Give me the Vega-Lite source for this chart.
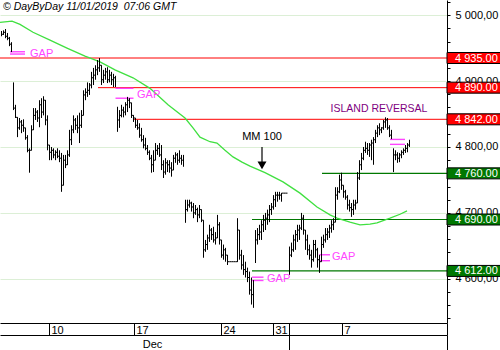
{
"$schema": "https://vega.github.io/schema/vega-lite/v6.json",
"width": 447,
"height": 323,
"autosize": "none",
"padding": {"left": 0, "top": 0, "right": 53, "bottom": 27},
"background": "white",
"config": {"view": {"stroke": null}, "axis": {"labelFont": "Liberation Sans", "labelFontSize": 11, "labelColor": "black", "domainColor": "black", "tickColor": "black", "grid": false}, "text": {"font": "Liberation Sans"}},
"datasets": {
"bars": [
{"t":0.5,"h":4976,"l":4968,"c":4971,"s":1},{"t":1.5,"h":4977,"l":4970,"c":4974,"s":1},{"t":2.5,"h":4979,"l":4965,"c":4968,"s":1},{"t":3.5,"h":4973,"l":4962,"c":4965,"s":1},{"t":4.5,"h":4967,"l":4953,"c":4956,"s":1},{"t":5.5,"h":4959,"l":4944,"c":4945,"s":1},
{"t":6.5,"h":4898,"l":4856,"c":4859,"s":2},{"t":7.5,"h":4864,"l":4844,"c":4845,"s":2},{"t":8.5,"h":4845,"l":4815,"c":4829,"s":2},{"t":9.5,"h":4844,"l":4826,"c":4838,"s":2},{"t":10.5,"h":4841,"l":4821,"c":4833,"s":2},{"t":11.5,"h":4842,"l":4823,"c":4829,"s":2},{"t":12.5,"h":4829,"l":4811,"c":4814,"s":2},{"t":13.5,"h":4818,"l":4792,"c":4795,"s":2},{"t":14.5,"h":4798,"l":4761,"c":4795,"s":2},{"t":15.5,"h":4833,"l":4795,"c":4826,"s":2},{"t":16.5,"h":4859,"l":4826,"c":4848,"s":2},{"t":17.5,"h":4859,"l":4841,"c":4853,"s":2},{"t":18.5,"h":4856,"l":4838,"c":4844,"s":2},{"t":19.5,"h":4871,"l":4830,"c":4864,"s":2},{"t":20.5,"h":4874,"l":4844,"c":4853,"s":2},{"t":21.5,"h":4877,"l":4848,"c":4871,"s":2},{"t":22.5,"h":4871,"l":4833,"c":4841,"s":2},{"t":23.5,"h":4848,"l":4795,"c":4803,"s":2},{"t":24.5,"h":4803,"l":4780,"c":4792,"s":2},{"t":25.5,"h":4800,"l":4780,"c":4795,"s":2},{"t":26.5,"h":4798,"l":4783,"c":4788,"s":2},{"t":27.5,"h":4795,"l":4780,"c":4792,"s":2},{"t":28.5,"h":4798,"l":4783,"c":4786,"s":2},{"t":29.5,"h":4795,"l":4777,"c":4783,"s":2},{"t":30.5,"h":4791,"l":4732,"c":4742,"s":2},{"t":31.5,"h":4788,"l":4742,"c":4780,"s":2},{"t":32.5,"h":4788,"l":4768,"c":4773,"s":2},{"t":33.5,"h":4795,"l":4773,"c":4788,"s":2},{"t":34.5,"h":4826,"l":4785,"c":4811,"s":2},{"t":35.5,"h":4833,"l":4803,"c":4826,"s":2},{"t":36.5,"h":4848,"l":4821,"c":4841,"s":2},{"t":37.5,"h":4844,"l":4826,"c":4833,"s":2},{"t":38.5,"h":4848,"l":4821,"c":4829,"s":2},{"t":39.5,"h":4852,"l":4806,"c":4833,"s":2},{"t":40.5,"h":4856,"l":4829,"c":4848,"s":2},{"t":41.5,"h":4886,"l":4852,"c":4879,"s":2},{"t":42.5,"h":4889,"l":4871,"c":4883,"s":2},{"t":43.5,"h":4898,"l":4876,"c":4886,"s":2},{"t":44.5,"h":4897,"l":4879,"c":4894,"s":2},{"t":45.5,"h":4914,"l":4889,"c":4905,"s":2},{"t":46.5,"h":4920,"l":4894,"c":4909,"s":2},{"t":47.5,"h":4924,"l":4902,"c":4917,"s":2},{"t":48.5,"h":4932,"l":4909,"c":4920,"s":2},{"t":49.5,"h":4935,"l":4914,"c":4924,"s":2},{"t":50.5,"h":4920,"l":4894,"c":4902,"s":2},{"t":51.5,"h":4917,"l":4897,"c":4909,"s":2},{"t":52.5,"h":4920,"l":4902,"c":4914,"s":2},{"t":53.5,"h":4921,"l":4897,"c":4902,"s":2},{"t":54.5,"h":4917,"l":4898,"c":4909,"s":2},{"t":55.5,"h":4914,"l":4894,"c":4902,"s":2},{"t":56.5,"h":4911,"l":4891,"c":4905,"s":2},{"t":57.5,"h":4908,"l":4891,"c":4892,"s":2},
{"t":58.5,"h":4861,"l":4823,"c":4841,"s":3},{"t":59.5,"h":4856,"l":4829,"c":4848,"s":3},{"t":60.5,"h":4864,"l":4845,"c":4856,"s":3},{"t":61.5,"h":4861,"l":4845,"c":4853,"s":3},{"t":62.5,"h":4868,"l":4848,"c":4864,"s":3},{"t":63.5,"h":4876,"l":4853,"c":4871,"s":3},{"t":64.5,"h":4874,"l":4859,"c":4867,"s":3},{"t":65.5,"h":4867,"l":4844,"c":4848,"s":3},{"t":66.5,"h":4848,"l":4838,"c":4844,"s":3},{"t":67.5,"h":4844,"l":4829,"c":4833,"s":3},{"t":68.5,"h":4841,"l":4826,"c":4829,"s":3},{"t":69.5,"h":4836,"l":4814,"c":4818,"s":3},{"t":70.5,"h":4829,"l":4808,"c":4811,"s":3},{"t":71.5,"h":4818,"l":4798,"c":4803,"s":3},{"t":72.5,"h":4814,"l":4795,"c":4798,"s":3},{"t":73.5,"h":4803,"l":4788,"c":4792,"s":3},{"t":74.5,"h":4795,"l":4780,"c":4783,"s":3},{"t":75.5,"h":4788,"l":4761,"c":4773,"s":3},{"t":76.5,"h":4795,"l":4762,"c":4780,"s":3},{"t":77.5,"h":4806,"l":4783,"c":4795,"s":3},{"t":78.5,"h":4803,"l":4788,"c":4798,"s":3},{"t":79.5,"h":4806,"l":4785,"c":4788,"s":3},{"t":80.5,"h":4803,"l":4765,"c":4773,"s":3},{"t":81.5,"h":4780,"l":4753,"c":4762,"s":3},{"t":82.5,"h":4783,"l":4758,"c":4776,"s":3},{"t":83.5,"h":4780,"l":4762,"c":4773,"s":3},{"t":84.5,"h":4780,"l":4761,"c":4768,"s":3},{"t":85.5,"h":4777,"l":4755,"c":4765,"s":3},{"t":86.5,"h":4788,"l":4768,"c":4783,"s":3},{"t":87.5,"h":4792,"l":4776,"c":4788,"s":3},{"t":88.5,"h":4791,"l":4773,"c":4780,"s":3},{"t":89.5,"h":4795,"l":4776,"c":4783,"s":3},{"t":90.5,"h":4788,"l":4773,"c":4780,"s":3},{"t":91.5,"h":4788,"l":4770,"c":4780,"s":3},
{"t":92.5,"h":4720,"l":4685,"c":4705,"s":4},{"t":93.5,"h":4720,"l":4702,"c":4712,"s":4},{"t":94.5,"h":4720,"l":4708,"c":4715,"s":4},{"t":95.5,"h":4717,"l":4702,"c":4709,"s":4},{"t":96.5,"h":4715,"l":4692,"c":4700,"s":4},{"t":97.5,"h":4712,"l":4697,"c":4705,"s":4},{"t":98.5,"h":4708,"l":4686,"c":4697,"s":4},{"t":99.5,"h":4712,"l":4692,"c":4705,"s":4},{"t":100.5,"h":4705,"l":4686,"c":4689,"s":4},{"t":101.5,"h":4686,"l":4632,"c":4644,"s":4},{"t":102.5,"h":4659,"l":4641,"c":4652,"s":4},{"t":103.5,"h":4667,"l":4644,"c":4662,"s":4},{"t":104.5,"h":4682,"l":4656,"c":4674,"s":4},{"t":105.5,"h":4677,"l":4659,"c":4667,"s":4},{"t":106.5,"h":4679,"l":4655,"c":4659,"s":4},{"t":107.5,"h":4671,"l":4652,"c":4662,"s":4},{"t":108.5,"h":4697,"l":4662,"c":4682,"s":4},{"t":109.5,"h":4686,"l":4652,"c":4659,"s":4},{"t":110.5,"h":4656,"l":4632,"c":4636,"s":4},{"t":111.5,"h":4652,"l":4629,"c":4644,"s":4},{"t":112.5,"h":4647,"l":4626,"c":4636,"s":4},{"t":113.5,"h":4636,"l":4621,"c":4626,"s":4},{"t":114.5,"h":4626,"l":4626,"c":4626,"s":4},{"t":115.5,"h":4626,"l":4626,"c":4626,"s":4},{"t":116.5,"h":4626,"l":4626,"c":4626,"s":4},{"t":117.5,"h":4626,"l":4626,"c":4626,"s":4},{"t":118.5,"h":4692,"l":4626,"c":4674,"s":4},{"t":119.5,"h":4674,"l":4629,"c":4636,"s":4},{"t":120.5,"h":4644,"l":4614,"c":4621,"s":4},{"t":121.5,"h":4636,"l":4606,"c":4614,"s":4},{"t":122.5,"h":4626,"l":4602,"c":4611,"s":4},{"t":123.5,"h":4617,"l":4595,"c":4602,"s":4},{"t":124.5,"h":4611,"l":4576,"c":4583,"s":4},{"t":125.5,"h":4602,"l":4561,"c":4576,"s":4},{"t":126.5,"h":4598,"l":4556,"c":4595,"s":4},
{"t":127.5,"h":4674,"l":4624,"c":4659,"s":5},{"t":128.5,"h":4677,"l":4652,"c":4667,"s":5},{"t":129.5,"h":4682,"l":4659,"c":4671,"s":5},{"t":130.5,"h":4689,"l":4659,"c":4682,"s":5},{"t":131.5,"h":4697,"l":4671,"c":4689,"s":5},{"t":132.5,"h":4700,"l":4674,"c":4692,"s":5},{"t":133.5,"h":4705,"l":4682,"c":4697,"s":5},{"t":134.5,"h":4712,"l":4686,"c":4705,"s":5},{"t":135.5,"h":4715,"l":4697,"c":4709,"s":5},{"t":136.5,"h":4727,"l":4705,"c":4720,"s":5},{"t":137.5,"h":4732,"l":4709,"c":4727,"s":5},{"t":138.5,"h":4732,"l":4717,"c":4727,"s":5},{"t":139.5,"h":4732,"l":4720,"c":4727,"s":5},{"t":140.5,"h":4730,"l":4717,"c":4730,"s":5},{"t":141.5,"h":4730,"l":4730,"c":4730,"s":5},{"t":142.5,"h":4730,"l":4730,"c":4730,"s":5},{"t":143.5,"h":4730,"l":4730,"c":4730,"s":5},
{"t":144.5,"h":4649,"l":4606,"c":4636,"s":6},{"t":145.5,"h":4655,"l":4633,"c":4644,"s":6},{"t":146.5,"h":4667,"l":4641,"c":4659,"s":6},{"t":147.5,"h":4674,"l":4644,"c":4667,"s":6},{"t":148.5,"h":4682,"l":4656,"c":4674,"s":6},{"t":149.5,"h":4682,"l":4659,"c":4677,"s":6},{"t":150.5,"h":4700,"l":4674,"c":4692,"s":6},{"t":151.5,"h":4697,"l":4667,"c":4674,"s":6},{"t":152.5,"h":4674,"l":4644,"c":4659,"s":6},{"t":153.5,"h":4667,"l":4636,"c":4644,"s":6},{"t":154.5,"h":4652,"l":4629,"c":4636,"s":6},{"t":155.5,"h":4644,"l":4617,"c":4629,"s":6},{"t":156.5,"h":4659,"l":4626,"c":4652,"s":6},{"t":157.5,"h":4659,"l":4632,"c":4644,"s":6},{"t":158.5,"h":4647,"l":4617,"c":4629,"s":6},{"t":159.5,"h":4636,"l":4609,"c":4626,"s":6},{"t":160.5,"h":4664,"l":4636,"c":4652,"s":6},{"t":161.5,"h":4667,"l":4647,"c":4659,"s":6},{"t":162.5,"h":4677,"l":4655,"c":4667,"s":6},{"t":163.5,"h":4677,"l":4659,"c":4671,"s":6},{"t":164.5,"h":4682,"l":4662,"c":4677,"s":6},{"t":165.5,"h":4689,"l":4670,"c":4682,"s":6},{"t":166.5,"h":4692,"l":4674,"c":4686,"s":6},{"t":167.5,"h":4739,"l":4686,"c":4727,"s":6},{"t":168.5,"h":4739,"l":4720,"c":4732,"s":6},{"t":169.5,"h":4758,"l":4730,"c":4750,"s":6},{"t":170.5,"h":4761,"l":4735,"c":4742,"s":6},{"t":171.5,"h":4739,"l":4723,"c":4732,"s":6},{"t":172.5,"h":4735,"l":4720,"c":4724,"s":6},{"t":173.5,"h":4727,"l":4705,"c":4712,"s":6},{"t":174.5,"h":4720,"l":4702,"c":4708,"s":6},{"t":175.5,"h":4715,"l":4694,"c":4705,"s":6},{"t":176.5,"h":4720,"l":4697,"c":4712,"s":6},{"t":177.5,"h":4720,"l":4705,"c":4715,"s":6},{"t":178.5,"h":4762,"l":4717,"c":4753,"s":6},{"t":179.5,"h":4780,"l":4750,"c":4773,"s":6},{"t":180.5,"h":4791,"l":4765,"c":4783,"s":6},{"t":181.5,"h":4800,"l":4780,"c":4795,"s":6},{"t":182.5,"h":4808,"l":4791,"c":4798,"s":6},{"t":183.5,"h":4806,"l":4788,"c":4795,"s":6},{"t":184.5,"h":4806,"l":4785,"c":4803,"s":6},{"t":185.5,"h":4811,"l":4780,"c":4806,"s":6},{"t":186.5,"h":4815,"l":4773,"c":4811,"s":6},{"t":187.5,"h":4826,"l":4806,"c":4821,"s":6},{"t":188.5,"h":4833,"l":4815,"c":4829,"s":6},{"t":189.5,"h":4836,"l":4818,"c":4826,"s":6},{"t":190.5,"h":4830,"l":4821,"c":4829,"s":6},{"t":191.5,"h":4841,"l":4826,"c":4838,"s":6},{"t":192.5,"h":4845,"l":4829,"c":4841,"s":6},{"t":193.5,"h":4844,"l":4826,"c":4829,"s":6},{"t":194.5,"h":4833,"l":4815,"c":4818,"s":6},{"t":195.5,"h":4826,"l":4812,"c":4815,"s":6},
{"t":196.5,"h":4798,"l":4762,"c":4788,"s":7},{"t":197.5,"h":4795,"l":4780,"c":4788,"s":7},{"t":198.5,"h":4792,"l":4776,"c":4783,"s":7},{"t":199.5,"h":4791,"l":4777,"c":4788,"s":7},{"t":200.5,"h":4795,"l":4783,"c":4792,"s":7},{"t":201.5,"h":4798,"l":4788,"c":4795,"s":7},{"t":202.5,"h":4803,"l":4791,"c":4798,"s":7},{"t":203.5,"h":4806,"l":4792,"c":4803,"s":7},{"t":204.5,"h":4811,"l":4800,"c":4806,"s":7}
],
"ma": [
{"t":0,"p":4989},{"t":6,"p":4991},{"t":10,"p":4986},{"t":16.5,"p":4974},{"t":25,"p":4962},{"t":33.5,"p":4950},{"t":42.5,"p":4938},{"t":50,"p":4929},{"t":57.5,"p":4917},{"t":66.5,"p":4905},{"t":75,"p":4889},{"t":84,"p":4864},{"t":92.5,"p":4844},{"t":96.5,"p":4829},{"t":100,"p":4815},{"t":105,"p":4808},{"t":108.5,"p":4806},{"t":112.5,"p":4795},{"t":116.5,"p":4785},{"t":121,"p":4777},{"t":125,"p":4771},{"t":132.5,"p":4761},{"t":141.5,"p":4747},{"t":150,"p":4730},{"t":158.5,"p":4709},{"t":165,"p":4697},{"t":168.5,"p":4692},{"t":175,"p":4686},{"t":180,"p":4682},{"t":185,"p":4683},{"t":188.5,"p":4685},{"t":195,"p":4692},{"t":200,"p":4698},{"t":203.5,"p":4703}
],
"levels": [
{"p":4935,"t0":0,"kind":"resistance","lbl":"4 935.00"},
{"p":4890,"t0":49,"kind":"resistance","lbl":"4 890.00"},
{"p":4842,"t0":66.5,"kind":"resistance","lbl":"4 842.00"},
{"p":4760,"t0":161,"kind":"support","lbl":"4 760.00"},
{"p":4690,"t0":126,"kind":"key support","lbl":"4 690.00"},
{"p":4612,"t0":126,"kind":"support","lbl":"4 612.00"}
],
"gaps": [
{"t0":5,"t1":12.5,"p":4944.5},{"t0":5,"t1":12.5,"p":4941},
{"t0":57.75,"t1":66.75,"p":4889},{"t0":57.75,"t1":66.75,"p":4874},
{"t0":126,"t1":131.75,"p":4602.5},{"t0":126,"t1":131.75,"p":4597.5},
{"t0":159.5,"t1":165,"p":4636.5},{"t0":159.5,"t1":165,"p":4627.5},
{"t0":195,"t1":202.5,"p":4811.5},{"t0":195,"t1":202.5,"p":4804}
],
"gaplabels": [
{"t":15,"p":4941,"txt":"GAP"},{"t":68.5,"p":4879.5,"txt":"GAP"},{"t":133.5,"p":4599,"txt":"GAP"},{"t":166,"p":4632.5,"txt":"GAP"}
]
},
"layer": [
{"data": {"name": "levels"}, "mark": {"type": "rule"},
 "encoding": {
  "x": {"field": "t0", "type": "quantitative", "scale": {"domain": [0, 223.5], "nice": false, "zero": false}, "axis": null},
  "x2": {"datum": 223.5},
  "y": {"field": "p", "type": "quantitative", "scale": {"domain": [4533, 5023], "nice": false, "zero": false},
   "axis": {"orient": "right", "title": null, "values": [4540,4560,4580,4620,4640,4660,4680,4720,4740,4760,4780,4820,4840,4860,4880,4920,4940,4960,4980,5020], "tickSize": 3, "labels": false, "domain": false, "grid": false}},
  "color": {"field": "kind", "type": "nominal", "scale": {"domain": ["resistance", "support", "key support"], "range": ["#ff0000", "#007800", "#007800"]}, "legend": null},
  "strokeWidth": {"field": "kind", "type": "nominal", "scale": {"domain": ["resistance", "support", "key support"], "range": [1, 1.2, 2.6]}, "legend": null}}},
{"data": {"name": "gaps"}, "mark": {"type": "rule", "color": "#ff44ff", "strokeWidth": 1.4},
 "encoding": {
  "x": {"field": "t0", "type": "quantitative", "scale": {"domain": [0, 223.5], "nice": false, "zero": false}, "axis": null},
  "x2": {"field": "t1"},
  "y": {"field": "p", "type": "quantitative", "scale": {"domain": [4533, 5023], "nice": false, "zero": false}, "axis": null}}},
{"data": {"name": "ma"}, "mark": {"type": "line", "color": "#40e040", "strokeWidth": 1.3},
 "encoding": {
  "x": {"field": "t", "type": "quantitative", "scale": {"domain": [0, 223.5], "nice": false, "zero": false},
   "axis": {"orient": "bottom", "offset": 12, "title": null, "values": [76, 144.5, 223.5], "tickSize": 15, "tickOpacity": {"condition": {"test": "datum.value == 76", "value": 0}, "value": 1}, "labelExpr": "datum.value == 76 ? 'Dec' : ''", "labelAlign": "center", "labelBaseline": "top", "labelPadding": -12, "labelFlush": false, "labelOverlap": false, "grid": false}},
  "y": {"field": "p", "type": "quantitative", "scale": {"domain": [4533, 5023], "nice": false, "zero": false}, "axis": null}}},
{"data": {"name": "bars"}, "mark": {"type": "rule", "color": "black", "strokeWidth": 1, "xOffset": 0.5},
 "encoding": {
  "x": {"field": "t", "type": "quantitative", "scale": {"domain": [0, 223.5], "nice": false, "zero": false},
   "axis": {"orient": "bottom", "title": null, "values": [24.5, 67, 110.5, 136.5, 144.5, 171, 223.5], "tickSize": 12, "labelExpr": "datum.value == 24.5 ? '10' : datum.value == 67 ? '17' : datum.value == 110.5 ? '24' : datum.value == 136.5 ? '31' : datum.value == 171 ? '7' : ''", "labelAlign": "left", "labelBaseline": "top", "labelPadding": -11, "labelOffset": 2, "labelFlush": false, "labelOverlap": false, "grid": false}},
  "y": {"field": "l", "type": "quantitative", "scale": {"domain": [4533, 5023], "nice": false, "zero": false},
   "axis": {"orient": "right", "title": null, "values": [4600, 4700, 4800, 4900, 5000], "tickSize": 3, "grid": true, "gridColor": "#dcefd6", "labelExpr": "replace(replace(format(datum.value, ',.2f'), ',', ' '), '.', ',')", "labelPadding": 5, "labelAlign": "left", "labelBaseline": "middle", "labelOverlap": false, "labelFlush": false}},
  "y2": {"field": "h"}}},
{"data": {"name": "bars"}, "mark": {"type": "line", "interpolate": "step-after", "color": "black", "strokeWidth": 1, "xOffset": 0.5},
 "encoding": {
  "x": {"field": "t", "type": "quantitative", "scale": {"domain": [0, 223.5], "nice": false, "zero": false}, "axis": null},
  "y": {"field": "c", "type": "quantitative", "scale": {"domain": [4533, 5023], "nice": false, "zero": false}, "axis": null},
  "detail": {"field": "s", "type": "nominal"}}},
{"data": {"name": "gaplabels"}, "mark": {"type": "text", "align": "left", "baseline": "middle", "color": "#ff44ff", "fontSize": 11},
 "encoding": {
  "x": {"field": "t", "type": "quantitative", "scale": {"domain": [0, 223.5], "nice": false, "zero": false}, "axis": null},
  "y": {"field": "p", "type": "quantitative", "scale": {"domain": [4533, 5023], "nice": false, "zero": false}, "axis": null},
  "text": {"field": "txt"}}},
{"data": {"values": [{"t": 1.5, "p": 5012, "txt": "© DayByDay 11/01/2019 \u00a007:06 GMT"}]}, "mark": {"type": "text", "align": "left", "baseline": "middle", "color": "black", "fontSize": 10.5, "fontStyle": "italic"},
 "encoding": {
  "x": {"field": "t", "type": "quantitative", "scale": {"domain": [0, 223.5], "nice": false, "zero": false}, "axis": null},
  "y": {"field": "p", "type": "quantitative", "scale": {"domain": [4533, 5023], "nice": false, "zero": false}, "axis": null},
  "text": {"field": "txt"}}},
{"data": {"values": [{"t": 131, "p": 4815, "txt": "MM 100"}]}, "mark": {"type": "text", "align": "center", "baseline": "middle", "color": "black", "fontSize": 11},
 "encoding": {
  "x": {"field": "t", "type": "quantitative", "scale": {"domain": [0, 223.5], "nice": false, "zero": false}, "axis": null},
  "y": {"field": "p", "type": "quantitative", "scale": {"domain": [4533, 5023], "nice": false, "zero": false}, "axis": null},
  "text": {"field": "txt"}}},
{"data": {"values": [{"t": 189.5, "p": 4857, "txt": "ISLAND REVERSAL"}]}, "mark": {"type": "text", "align": "center", "baseline": "middle", "color": "#800080", "fontSize": 10.5},
 "encoding": {
  "x": {"field": "t", "type": "quantitative", "scale": {"domain": [0, 223.5], "nice": false, "zero": false}, "axis": null},
  "y": {"field": "p", "type": "quantitative", "scale": {"domain": [4533, 5023], "nice": false, "zero": false}, "axis": null},
  "text": {"field": "txt"}}},
{"data": {"values": [{"t": 131, "p0": 4800, "p1": 4774}]}, "mark": {"type": "rule", "color": "black", "strokeWidth": 1.2},
 "encoding": {
  "x": {"field": "t", "type": "quantitative", "scale": {"domain": [0, 223.5], "nice": false, "zero": false}, "axis": null},
  "y": {"field": "p0", "type": "quantitative", "scale": {"domain": [4533, 5023], "nice": false, "zero": false}, "axis": null},
  "y2": {"field": "p1"}}},
{"data": {"values": [{"t": 131, "p": 4772}]}, "mark": {"type": "point", "shape": "triangle-down", "filled": true, "color": "black", "opacity": 1, "size": 80},
 "encoding": {
  "x": {"field": "t", "type": "quantitative", "scale": {"domain": [0, 223.5], "nice": false, "zero": false}, "axis": null},
  "y": {"field": "p", "type": "quantitative", "scale": {"domain": [4533, 5023], "nice": false, "zero": false}, "axis": null}}},
{"data": {"name": "levels"}, "mark": {"type": "tick", "orient": "horizontal", "size": 54, "thickness": 11, "opacity": 1, "stroke": "black", "strokeWidth": 1},
 "encoding": {
  "x": {"datum": 237, "type": "quantitative", "scale": {"domain": [0, 223.5], "nice": false, "zero": false}, "axis": null},
  "y": {"field": "p", "type": "quantitative", "scale": {"domain": [4533, 5023], "nice": false, "zero": false}, "axis": null},
  "color": {"field": "kind", "type": "nominal", "scale": {"domain": ["resistance", "support", "key support"], "range": ["#ff0000", "#007800", "#007800"]}, "legend": null}}},
{"data": {"name": "levels"}, "mark": {"type": "text", "align": "left", "baseline": "middle", "color": "white", "fontSize": 11, "dy": 0.5},
 "encoding": {
  "x": {"datum": 227.5, "type": "quantitative", "scale": {"domain": [0, 223.5], "nice": false, "zero": false}, "axis": null},
  "y": {"field": "p", "type": "quantitative", "scale": {"domain": [4533, 5023], "nice": false, "zero": false}, "axis": null},
  "text": {"field": "lbl"}}}
],
"resolve": {"axis": {"x": "independent", "y": "independent"}}
}
